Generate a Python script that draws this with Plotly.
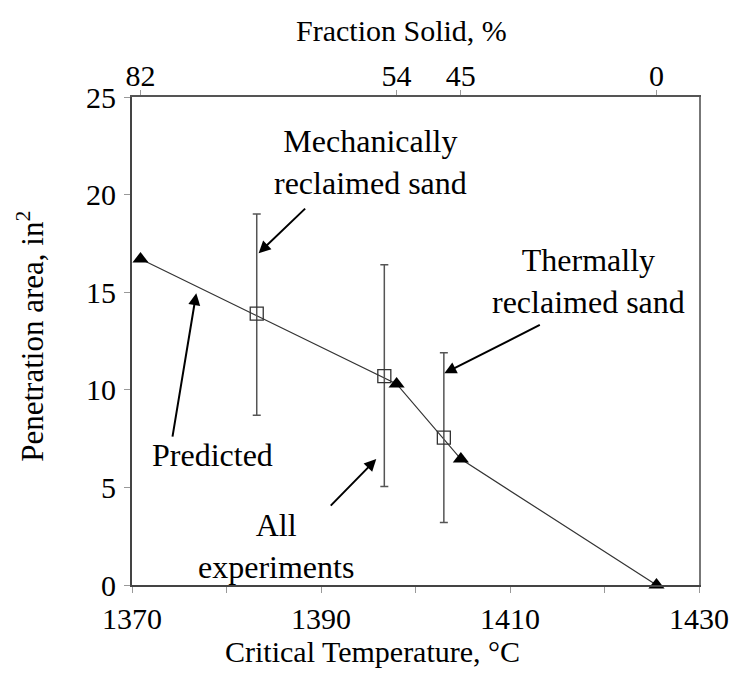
import plotly.graph_objects as go

# Predicted critical temperature vs penetration area (triangles)
pred_temp = [1370.9, 1398.0, 1404.8, 1425.5]
pred_area = [16.7, 10.3, 6.45, 0.0]
fraction_solid_labels = ["82", "54", "45", "0"]

# Experimental results (open squares with error bars)
exp_temp = [1383.2, 1396.7, 1403.0]
exp_area = [13.9, 10.7, 7.55]
exp_hi = [19.0, 16.4, 11.9]
exp_lo = [8.7, 5.05, 3.2]

x_ticks = [1370, 1390, 1410, 1430]

FONT = "Liberation Serif, Times New Roman, DejaVu Serif, serif"

fig = go.Figure()

fig.add_trace(go.Scatter(
    x=pred_temp, y=pred_area, mode="lines+markers",
    line=dict(color="#333333", width=1.2),
    marker=dict(symbol="triangle-up", size=14, color="black"),
    cliponaxis=False, showlegend=False))

fig.add_trace(go.Scatter(
    x=exp_temp, y=exp_area, mode="markers",
    marker=dict(symbol="square-open", size=13, color="#333333", line=dict(width=1.3)),
    error_y=dict(type="data", symmetric=False,
                 array=[h - v for h, v in zip(exp_hi, exp_area)],
                 arrayminus=[v - l for v, l in zip(exp_area, exp_lo)],
                 color="#555555", thickness=1.5, width=4),
    showlegend=False))

# invisible trace to activate top axis
fig.add_trace(go.Scatter(x=pred_temp, y=pred_area, xaxis="x2", mode="markers",
                         marker=dict(opacity=0), hoverinfo="skip", showlegend=False))

axis_font = dict(family=FONT, size=30, color="black")

all_x = [1370, 1380, 1390, 1400, 1410, 1420, 1430]

fig.update_layout(
    width=741, height=685,
    margin=dict(l=132, r=35, t=97, b=100),
    paper_bgcolor="white", plot_bgcolor="white",
    font=dict(family=FONT, size=30, color="black"),
    xaxis=dict(range=[1370, 1430], tickvals=all_x,
               ticktext=[str(v) if v in x_ticks else "" for v in all_x],
               ticks="outside", ticklen=6, tickcolor="#999999", tickwidth=1,
               showline=True, linecolor="#444444", linewidth=2, mirror=False,
               showgrid=False, zeroline=False, tickfont=axis_font, ticklabelstandoff=0),
    xaxis2=dict(range=[1370, 1430], overlaying="x", side="top",
                tickvals=pred_temp, ticktext=fraction_solid_labels,
                ticks="outside", ticklen=5, tickcolor="#999999", tickwidth=1,
                showline=True, linecolor="#555555", linewidth=1.5,
                showgrid=False, zeroline=False, tickfont=axis_font, ticklabelstandoff=-8),
    yaxis=dict(range=[0, 25], tickvals=[0, 5, 10, 15, 20, 25],
               ticks="outside", ticklen=6, tickcolor="#999999", tickwidth=1,
               showline=True, linecolor="#444444", linewidth=2, mirror=False,
               showgrid=False, zeroline=False, tickfont=axis_font, ticklabelstandoff=2),
    yaxis2=dict(range=[0, 25], overlaying="y", side="right", showticklabels=False,
                ticks="", showline=True, linecolor="#777777", linewidth=1.5,
                showgrid=False, zeroline=False),
)

# dummy on yaxis2 so the right frame line shows
fig.add_trace(go.Scatter(x=[1400], y=[10], yaxis="y2", mode="markers",
                         marker=dict(opacity=0), hoverinfo="skip", showlegend=False))

title_font = dict(family=FONT, size=30, color="black")
ann_font = dict(family=FONT, size=32, color="black")

# Axis titles
fig.add_annotation(text="Critical Temperature, °C", xref="paper", yref="paper",
                   x=(375 - 131.7) / 574.3, y=(585 - 652) / 488.3, showarrow=False,
                   font=title_font, xanchor="center", yanchor="middle")
fig.add_annotation(text="Fraction Solid, %", xref="paper", yref="paper",
                   x=(405 - 131.7) / 574.3, y=(585 - 30) / 488.3, showarrow=False,
                   font=title_font, xanchor="center", yanchor="middle")
fig.add_annotation(text="Penetration area, in<sup>2</sup>", xref="paper", yref="paper",
                   x=(29 - 131.7) / 574.3, y=(585 - 336) / 488.3, showarrow=False,
                   textangle=-90, font=dict(family=FONT, size=31, color="black"),
                   xanchor="center", yanchor="middle")

# Callout texts
fig.add_annotation(text="Mechanically<br>reclaimed sand", x=1395.2, y=21.66, showarrow=False,
                   font=ann_font, xanchor="center", yanchor="middle")
fig.add_annotation(text="Thermally<br>reclaimed sand", x=1418.3, y=15.57, showarrow=False,
                   font=ann_font, xanchor="center", yanchor="middle")
fig.add_annotation(text="Predicted", x=1378.5, y=6.66, showarrow=False,
                   font=ann_font, xanchor="center", yanchor="middle")
fig.add_annotation(text="All<br>experiments", x=1385.2, y=2.0, showarrow=False,
                   font=ann_font, xanchor="center", yanchor="middle")

# Arrows
arrow_style = dict(showarrow=True, arrowhead=2, arrowsize=1.2, arrowwidth=2,
                   arrowcolor="black", text="")
fig.add_annotation(x=1383.4, y=17.0, ax=48, ay=-46, **arrow_style)
fig.add_annotation(x=1403.05, y=10.85, ax=97, ay=-49, **arrow_style)
fig.add_annotation(x=1376.8, y=14.95, ax=-24, ay=145, **arrow_style)
fig.add_annotation(x=1395.85, y=6.45, ax=-47, ay=48, **arrow_style)

fig.write_html("out.html")
